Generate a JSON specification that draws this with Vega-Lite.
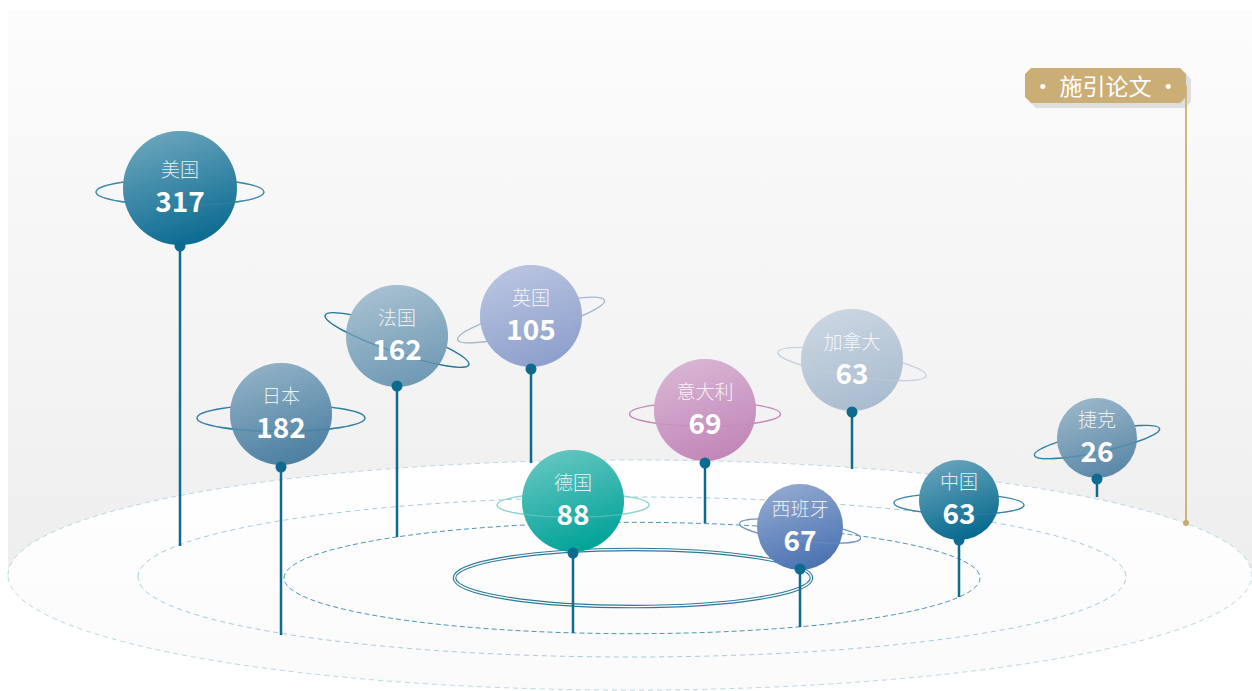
{
  "$schema": "https://vega.github.io/schema/vega-lite/v6.json",
  "width": 1252,
  "height": 691,
  "padding": 0,
  "autosize": {"type": "none"},
  "background": "#ffffff",
  "config": {"view": {"stroke": null}},
  "datasets": {
    "stage": [{"x1": 8, "x2": 1252, "y1": 10, "y2": 575}],
    "rings": [
      {"ring": "outer", "cx": 630, "cy": 575},
      {"ring": "middle", "cx": 632, "cy": 577},
      {"ring": "inner", "cx": 632, "cy": 578},
      {"ring": "core", "cx": 633, "cy": 578}
    ],
    "countries": [
      {"country": "美国", "value": 317, "x": 180, "y": 188, "pin": 246, "ground": 546},
      {"country": "日本", "value": 182, "x": 281, "y": 414, "pin": 467, "ground": 635},
      {"country": "法国", "value": 162, "x": 397, "y": 336, "pin": 386, "ground": 537},
      {"country": "英国", "value": 105, "x": 531, "y": 316, "pin": 369, "ground": 463},
      {"country": "德国", "value": 88, "x": 573, "y": 501, "pin": 553, "ground": 633},
      {"country": "意大利", "value": 69, "x": 705, "y": 410, "pin": 463, "ground": 523},
      {"country": "加拿大", "value": 63, "x": 852, "y": 360, "pin": 412, "ground": 469},
      {"country": "西班牙", "value": 67, "x": 800, "y": 527, "pin": 569, "ground": 627},
      {"country": "中国", "value": 63, "x": 959, "y": 500, "pin": 540, "ground": 597},
      {"country": "捷克", "value": 26, "x": 1097, "y": 438, "pin": 479, "ground": 497}
    ],
    "tag": [{"label": "· 施引论文 ·", "x": 1105.5, "y": 85.5, "lx": 1186, "ly2": 523}]
  },
  "resolve": {"scale": {"size": "independent"}},
  "layer": [
    {
      "data": {"name": "stage"},
      "mark": {"type": "rect", "fill": {"gradient": "linear", "x1": 0, "y1": 0, "x2": 0, "y2": 1, "stops": [{"offset": 0, "color": "#fcfcfc"}, {"offset": 1, "color": "#eeeeee"}]}},
      "encoding": {
        "x": {"field": "x1", "type": "quantitative", "scale": {"domain": [0, 1252], "nice": false, "zero": false}, "axis": null},
        "x2": {"field": "x2"},
        "y": {"field": "y1", "type": "quantitative", "scale": {"domain": [0, 691], "reverse": true, "nice": false, "zero": false}, "axis": null},
        "y2": {"field": "y2"}
      }
    },
    {
      "data": {"name": "rings"},
      "transform": [{"filter": "datum.ring === 'outer'"}],
      "mark": {"type": "point", "shape": "M -1 0 A 1 0.185 0 0 1 1 0 A 1 0.185 0 0 1 -1 0 Z", "size": 1547536, "filled": true, "opacity": 1,
        "fill": {"gradient": "linear", "x1": 0, "y1": 0, "x2": 0, "y2": 1, "stops": [{"offset": 0, "color": "#ffffff"}, {"offset": 1, "color": "#fafafa"}]},
        "stroke": "#bcd8e1", "strokeWidth": 1, "strokeDash": [5, 4]},
      "encoding": {
        "x": {"field": "cx", "type": "quantitative", "scale": {"domain": [0, 1252], "nice": false, "zero": false}, "axis": null},
        "y": {"field": "cy", "type": "quantitative", "scale": {"domain": [0, 691], "reverse": true, "nice": false, "zero": false}, "axis": null}
      }
    },
    {
      "data": {"name": "rings"},
      "transform": [{"filter": "datum.ring === 'middle'"}],
      "mark": {"type": "point", "shape": "M -1 0 A 1 0.162 0 0 1 1 0 A 1 0.162 0 0 1 -1 0 Z", "size": 976144, "filled": false, "opacity": 1,
        "stroke": "#a6cbd9", "strokeWidth": 1, "strokeDash": [5, 4]},
      "encoding": {
        "x": {"field": "cx", "type": "quantitative", "scale": {"domain": [0, 1252], "nice": false, "zero": false}, "axis": null},
        "y": {"field": "cy", "type": "quantitative", "scale": {"domain": [0, 691], "reverse": true, "nice": false, "zero": false}, "axis": null}
      }
    },
    {
      "data": {"name": "rings"},
      "transform": [{"filter": "datum.ring === 'inner'"}],
      "mark": {"type": "point", "shape": "M -1 0 A 1 0.16 0 0 1 1 0 A 1 0.16 0 0 1 -1 0 Z", "size": 484416, "filled": false, "opacity": 1,
        "stroke": "#4f97b4", "strokeWidth": 1, "strokeDash": [5, 3]},
      "encoding": {
        "x": {"field": "cx", "type": "quantitative", "scale": {"domain": [0, 1252], "nice": false, "zero": false}, "axis": null},
        "y": {"field": "cy", "type": "quantitative", "scale": {"domain": [0, 691], "reverse": true, "nice": false, "zero": false}, "axis": null}
      }
    },
    {
      "data": {"name": "rings"},
      "transform": [{"filter": "datum.ring === 'core'"}],
      "mark": {"type": "point", "shape": "M -1 0 A 1 0.16 0 0 1 1 0 A 1 0.16 0 0 1 -1 0 Z", "size": 127449, "filled": false, "opacity": 1,
        "stroke": "#2b7898", "strokeWidth": 3.6},
      "encoding": {
        "x": {"field": "cx", "type": "quantitative", "scale": {"domain": [0, 1252], "nice": false, "zero": false}, "axis": null},
        "y": {"field": "cy", "type": "quantitative", "scale": {"domain": [0, 691], "reverse": true, "nice": false, "zero": false}, "axis": null}
      }
    },
    {
      "data": {"name": "rings"},
      "transform": [{"filter": "datum.ring === 'core'"}],
      "mark": {"type": "point", "shape": "M -1 0 A 1 0.16 0 0 1 1 0 A 1 0.16 0 0 1 -1 0 Z", "size": 127449, "filled": false, "opacity": 1,
        "stroke": "#ffffff", "strokeWidth": 1.3},
      "encoding": {
        "x": {"field": "cx", "type": "quantitative", "scale": {"domain": [0, 1252], "nice": false, "zero": false}, "axis": null},
        "y": {"field": "cy", "type": "quantitative", "scale": {"domain": [0, 691], "reverse": true, "nice": false, "zero": false}, "axis": null}
      }
    },
    {
      "data": {"name": "countries"},
      "mark": {"type": "rule", "color": "#0e6b8f", "strokeWidth": 2.5},
      "encoding": {
        "x": {"field": "x", "type": "quantitative", "scale": {"domain": [0, 1252], "nice": false, "zero": false}, "axis": null},
        "y": {"field": "pin", "type": "quantitative", "scale": {"domain": [0, 691], "reverse": true, "nice": false, "zero": false}, "axis": null},
        "y2": {"field": "ground"}
      }
    },
    {
      "data": {"name": "countries"},
      "mark": {"type": "point", "shape": "M -1 0 A 1 0.16 0 0 1 1 0 A 1 0.16 0 0 1 -1 0 Z", "filled": false, "opacity": 1, "strokeWidth": 1.3, "yOffset": 4},
      "encoding": {
        "x": {"field": "x", "type": "quantitative", "scale": {"domain": [0, 1252], "nice": false, "zero": false}, "axis": null},
        "y": {"field": "y", "type": "quantitative", "scale": {"domain": [0, 691], "reverse": true, "nice": false, "zero": false}, "axis": null},
        "size": {"field": "country", "type": "nominal", "legend": null, "scale": {"type": "ordinal", "domain": ["美国","日本","法国","英国","德国","意大利","加拿大","西班牙","中国","捷克"], "range": [28224,28224,23104,23104,23104,22801,22500,14884,16900,16384]}},
        "angle": {"field": "country", "type": "nominal", "legend": null, "scale": {"type": "ordinal", "domain": ["美国","日本","法国","英国","德国","意大利","加拿大","西班牙","中国","捷克"], "range": [0,0,19,-15,0,0,9,7,1,-12]}},
        "stroke": {"field": "country", "type": "nominal", "legend": null, "scale": {"domain": ["美国","日本","法国","英国","德国","意大利","加拿大","西班牙","中国","捷克"], "range": ["#3a86a8","#2f7fa2","#1f7497","#a4b6d2","#8bd3ca","#c785b6","#c5d2de","#7894c8","#3b84a5","#2f7ea3"]}}
      }
    },
    {
      "data": {"name": "countries"},
      "mark": {"type": "point", "shape": "circle", "filled": true, "opacity": 1, "strokeWidth": 0},
      "encoding": {
        "x": {"field": "x", "type": "quantitative", "scale": {"domain": [0, 1252], "nice": false, "zero": false}, "axis": null},
        "y": {"field": "y", "type": "quantitative", "scale": {"domain": [0, 691], "reverse": true, "nice": false, "zero": false}, "axis": null},
        "size": {"field": "country", "type": "nominal", "legend": null, "scale": {"type": "ordinal", "domain": ["美国","日本","法国","英国","德国","意大利","加拿大","西班牙","中国","捷克"], "range": [12996,10404,10404,10404,10404,10404,10404,7396,6400,6400]}},
        "fill": {"field": "country", "type": "nominal", "legend": null, "scale": {"domain": ["美国","日本","法国","英国","德国","意大利","加拿大","西班牙","中国","捷克"], "range": ["#0b6b91","#4b7fa1","#6f99b4","#8d9fcc","#00a298","#c186b8","#a9bccf","#4a72b2","#05698f","#5a88a7"]}}
      }
    },
    {
      "data": {"name": "countries"},
      "mark": {"type": "point", "shape": "circle", "filled": true, "opacity": 1, "strokeWidth": 0,
        "fill": {"gradient": "linear", "x1": 0.25, "y1": 0, "x2": 0.6, "y2": 1, "stops": [{"offset": 0, "color": "rgba(255,255,255,0.4)"}, {"offset": 1, "color": "rgba(255,255,255,0)"}]}},
      "encoding": {
        "x": {"field": "x", "type": "quantitative", "scale": {"domain": [0, 1252], "nice": false, "zero": false}, "axis": null},
        "y": {"field": "y", "type": "quantitative", "scale": {"domain": [0, 691], "reverse": true, "nice": false, "zero": false}, "axis": null},
        "size": {"field": "country", "type": "nominal", "legend": null, "scale": {"type": "ordinal", "domain": ["美国","日本","法国","英国","德国","意大利","加拿大","西班牙","中国","捷克"], "range": [12996,10404,10404,10404,10404,10404,10404,7396,6400,6400]}}
      }
    },
    {
      "data": {"name": "countries"},
      "mark": {"type": "point", "shape": "M -1 0 A 1 0.16 0 0 0 1 0", "filled": false, "opacity": 0.45, "strokeWidth": 1.3, "yOffset": 4},
      "encoding": {
        "x": {"field": "x", "type": "quantitative", "scale": {"domain": [0, 1252], "nice": false, "zero": false}, "axis": null},
        "y": {"field": "y", "type": "quantitative", "scale": {"domain": [0, 691], "reverse": true, "nice": false, "zero": false}, "axis": null},
        "size": {"field": "country", "type": "nominal", "legend": null, "scale": {"type": "ordinal", "domain": ["美国","日本","法国","英国","德国","意大利","加拿大","西班牙","中国","捷克"], "range": [28224,28224,23104,23104,23104,22801,22500,14884,16900,16384]}},
        "angle": {"field": "country", "type": "nominal", "legend": null, "scale": {"type": "ordinal", "domain": ["美国","日本","法国","英国","德国","意大利","加拿大","西班牙","中国","捷克"], "range": [0,0,19,-15,0,0,9,7,1,-12]}},
        "stroke": {"field": "country", "type": "nominal", "legend": null, "scale": {"domain": ["美国","日本","法国","英国","德国","意大利","加拿大","西班牙","中国","捷克"], "range": ["#3a86a8","#2f7fa2","#1f7497","#a4b6d2","#8bd3ca","#c785b6","#c5d2de","#7894c8","#3b84a5","#2f7ea3"]}}
      }
    },
    {
      "data": {"name": "countries"},
      "mark": {"type": "point", "shape": "circle", "filled": true, "opacity": 1, "size": 121, "color": "#0e6b8f", "strokeWidth": 0},
      "encoding": {
        "x": {"field": "x", "type": "quantitative", "scale": {"domain": [0, 1252], "nice": false, "zero": false}, "axis": null},
        "y": {"field": "pin", "type": "quantitative", "scale": {"domain": [0, 691], "reverse": true, "nice": false, "zero": false}, "axis": null}
      }
    },
    {
      "data": {"name": "countries"},
      "mark": {"type": "text", "font": "Noto Sans CJK SC", "fontSize": 19, "fontWeight": 300, "color": "#ffffff", "opacity": 0.85, "baseline": "middle", "align": "center", "dy": -17},
      "encoding": {
        "x": {"field": "x", "type": "quantitative", "scale": {"domain": [0, 1252], "nice": false, "zero": false}, "axis": null},
        "y": {"field": "y", "type": "quantitative", "scale": {"domain": [0, 691], "reverse": true, "nice": false, "zero": false}, "axis": null},
        "text": {"field": "country", "type": "nominal"}
      }
    },
    {
      "data": {"name": "countries"},
      "mark": {"type": "text", "font": "Noto Sans CJK SC", "fontSize": 28, "fontWeight": "bold", "color": "#ffffff", "baseline": "middle", "align": "center", "dy": 16},
      "encoding": {
        "x": {"field": "x", "type": "quantitative", "scale": {"domain": [0, 1252], "nice": false, "zero": false}, "axis": null},
        "y": {"field": "y", "type": "quantitative", "scale": {"domain": [0, 691], "reverse": true, "nice": false, "zero": false}, "axis": null},
        "text": {"field": "value", "type": "quantitative"}
      }
    },
    {
      "data": {"name": "tag"},
      "mark": {"type": "point", "shape": "M -0.925 -0.217 L 0.925 -0.217 L 1 -0.142 L 1 0.142 L 0.925 0.217 L -0.925 0.217 L -1 0.142 L -1 -0.142 Z", "size": 25921, "filled": true, "opacity": 1, "color": "#dedede", "strokeWidth": 0, "xOffset": 5, "yOffset": 5},
      "encoding": {
        "x": {"field": "x", "type": "quantitative", "scale": {"domain": [0, 1252], "nice": false, "zero": false}, "axis": null},
        "y": {"field": "y", "type": "quantitative", "scale": {"domain": [0, 691], "reverse": true, "nice": false, "zero": false}, "axis": null}
      }
    },
    {
      "data": {"name": "tag"},
      "mark": {"type": "rule", "color": "#cfb47f", "strokeWidth": 2},
      "encoding": {
        "x": {"field": "lx", "type": "quantitative", "scale": {"domain": [0, 1252], "nice": false, "zero": false}, "axis": null},
        "y": {"field": "y", "type": "quantitative", "scale": {"domain": [0, 691], "reverse": true, "nice": false, "zero": false}, "axis": null},
        "y2": {"field": "ly2"}
      }
    },
    {
      "data": {"name": "tag"},
      "mark": {"type": "point", "shape": "circle", "filled": true, "opacity": 1, "size": 36, "color": "#c9ab72", "strokeWidth": 0},
      "encoding": {
        "x": {"field": "lx", "type": "quantitative", "scale": {"domain": [0, 1252], "nice": false, "zero": false}, "axis": null},
        "y": {"field": "ly2", "type": "quantitative", "scale": {"domain": [0, 691], "reverse": true, "nice": false, "zero": false}, "axis": null}
      }
    },
    {
      "data": {"name": "tag"},
      "mark": {"type": "point", "shape": "M -0.925 -0.217 L 0.925 -0.217 L 1 -0.142 L 1 0.142 L 0.925 0.217 L -0.925 0.217 L -1 0.142 L -1 -0.142 Z", "size": 25921, "filled": true, "opacity": 1, "color": "#cbae76", "strokeWidth": 0},
      "encoding": {
        "x": {"field": "x", "type": "quantitative", "scale": {"domain": [0, 1252], "nice": false, "zero": false}, "axis": null},
        "y": {"field": "y", "type": "quantitative", "scale": {"domain": [0, 691], "reverse": true, "nice": false, "zero": false}, "axis": null}
      }
    },
    {
      "data": {"name": "tag"},
      "mark": {"type": "text", "font": "Noto Sans CJK SC", "fontSize": 23, "color": "#ffffff", "baseline": "middle", "align": "center", "dy": 2},
      "encoding": {
        "x": {"field": "x", "type": "quantitative", "scale": {"domain": [0, 1252], "nice": false, "zero": false}, "axis": null},
        "y": {"field": "y", "type": "quantitative", "scale": {"domain": [0, 691], "reverse": true, "nice": false, "zero": false}, "axis": null},
        "text": {"field": "label", "type": "nominal"}
      }
    }
  ]
}
